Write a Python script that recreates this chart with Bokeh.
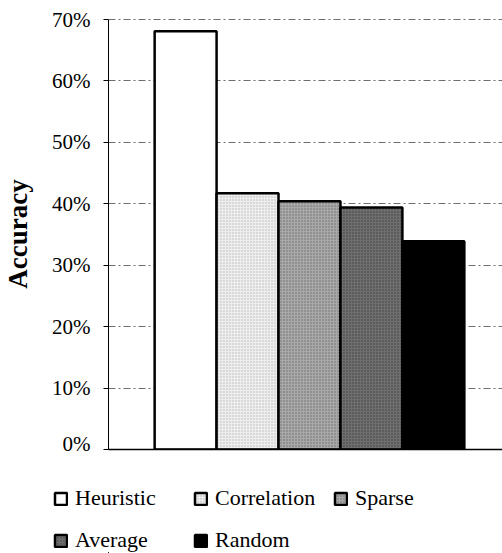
from bokeh.plotting import figure
from bokeh.layouts import column
from bokeh.models import (ColumnDataSource, Legend, LegendItem, NumeralTickFormatter,
                          FixedTicker, Range1d)
from bokeh.embed import file_html
from bokeh.resources import INLINE

categories = ["Heuristic", "Correlation", "Sparse", "Average", "Random"]
accuracy = [0.681, 0.417, 0.404, 0.394, 0.339]
y_ticks = [0.0, 0.1, 0.2, 0.3, 0.4, 0.5, 0.6, 0.7]

fills = ["#ffffff", "#eeeeee", "#a9a9a9", "#6f6f6f", "#000000"]
hatches = [" ", "dot", "dot", "dot", " "]
hatch_colors = ["#ffffff", "#b5b5b5", "#6a6a6a", "#3a3a3a", "#000000"]

FONT = "Liberation Serif"

p = figure(width=502, height=455, output_backend="svg", toolbar_location=None,
           x_range=Range1d(-1.245, 5.116), y_range=Range1d(0, 0.7 * 431 / 430),
           frame_width=394, frame_height=431,
           min_border_left=108, min_border_right=0, min_border_top=18, min_border_bottom=6)
p.outline_line_color = None
p.background_fill_color = "white"

for i, (c, v) in enumerate(zip(categories, accuracy)):
    src = ColumnDataSource(dict(x=[i], top=[v]))
    p.vbar(x="x", top="top", width=1.0, bottom=0, source=src,
           fill_color=fills[i], line_color="black", line_width=2.5,
           hatch_pattern=hatches[i], hatch_color=hatch_colors[i], hatch_scale=3,
           hatch_weight=1)

# axes
p.yaxis.ticker = FixedTicker(ticks=y_ticks)
p.yaxis.bounds = (0, 0.7)
p.yaxis.formatter = NumeralTickFormatter(format="0%")
p.yaxis.major_label_text_font = FONT
p.yaxis.major_label_text_font_size = "21px"
p.yaxis.major_label_text_color = "black"
p.yaxis.major_tick_in = 0
p.yaxis.major_tick_out = 5
p.yaxis.minor_tick_line_color = None
p.yaxis.axis_line_color = "black"
p.yaxis.major_tick_line_color = "black"
p.yaxis.major_label_standoff = 13
p.yaxis.axis_label = "Accuracy"
p.yaxis.axis_label_text_font = FONT
p.yaxis.axis_label_text_font_style = "bold"
p.yaxis.axis_label_text_font_size = "27px"
p.yaxis.axis_label_text_color = "black"
p.yaxis.axis_label_standoff = 16

p.xaxis.ticker = FixedTicker(ticks=[])
p.xaxis.major_label_text_font_size = "0px"
p.xaxis.major_tick_line_color = None
p.xaxis.minor_tick_line_color = None
p.xaxis.axis_line_color = "black"
p.xaxis.axis_line_width = 1.5

p.xgrid.grid_line_color = None
p.ygrid.ticker = FixedTicker(ticks=y_ticks)
p.ygrid.grid_line_color = "#6e6e6e"
p.ygrid.grid_line_dash = "7 3 2 3"
p.ygrid.grid_line_width = 1

# legend panel (separate figure; its renderers lie outside its visible range)
leg = figure(width=502, height=98, output_backend="svg", toolbar_location=None,
             x_range=Range1d(100, 101), y_range=Range1d(100, 101),
             frame_width=502, frame_height=98,
             x_axis_location=None, y_axis_location=None,
             min_border_left=0, min_border_right=0, min_border_top=0, min_border_bottom=0)
leg.outline_line_color = None
leg.xgrid.visible = False
leg.ygrid.visible = False

legend_items = {}
for i, c in enumerate(categories):
    r = leg.vbar(x=[i], top=[accuracy[i]], width=1.0,
                 fill_color=fills[i], line_color="black", line_width=2.5,
                 hatch_pattern=hatches[i], hatch_color=hatch_colors[i], hatch_scale=3,
                 hatch_weight=1)
    legend_items[c] = LegendItem(label=c, renderers=[r])

# legend fills column by column: arrange so rows read Heuristic/Correlation/Sparse, Average/Random
order = ["Heuristic", "Average", "Correlation", "Random", "Sparse"]
legend = Legend(items=[legend_items[c] for c in order], location=(53, 0), ncols=3,
                label_text_font=FONT, label_text_font_size="22px",
                label_text_color="black", glyph_width=15, glyph_height=15,
                label_standoff=7, label_width=102, label_height=26,
                spacing=16, padding=0, margin=0,
                border_line_color=None, background_fill_alpha=0)
leg.add_layout(legend, "center")

layout = column(p, leg, spacing=0)
open("out.html", "w").write(file_html(layout, INLINE))
